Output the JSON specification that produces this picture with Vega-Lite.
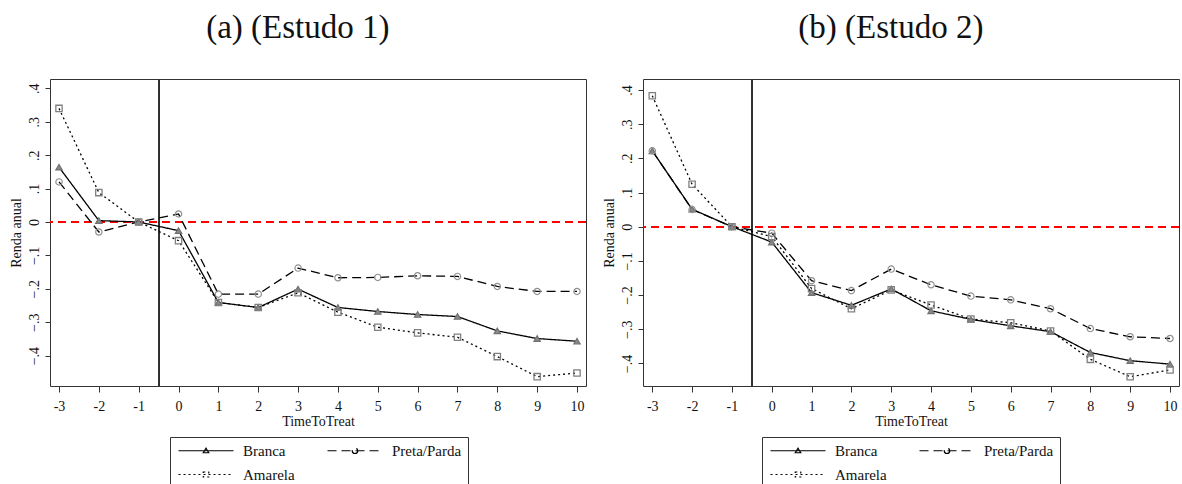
{
  "$schema": "https://vega.github.io/schema/vega-lite/v6.json",
  "background": "white",
  "padding": {"left": 8, "top": 11, "right": 0, "bottom": 0},
  "spacing": 13,
  "datasets": {
    "d": [
      {"estudo": 1, "grupo": "Branca", "t": -3, "v": 0.164},
      {"estudo": 1, "grupo": "Branca", "t": -2, "v": 0.004},
      {"estudo": 1, "grupo": "Branca", "t": -1, "v": 0},
      {"estudo": 1, "grupo": "Branca", "t": 0, "v": -0.026},
      {"estudo": 1, "grupo": "Branca", "t": 1, "v": -0.241},
      {"estudo": 1, "grupo": "Branca", "t": 2, "v": -0.256},
      {"estudo": 1, "grupo": "Branca", "t": 3, "v": -0.201},
      {"estudo": 1, "grupo": "Branca", "t": 4, "v": -0.256},
      {"estudo": 1, "grupo": "Branca", "t": 5, "v": -0.268},
      {"estudo": 1, "grupo": "Branca", "t": 6, "v": -0.277},
      {"estudo": 1, "grupo": "Branca", "t": 7, "v": -0.283},
      {"estudo": 1, "grupo": "Branca", "t": 8, "v": -0.326},
      {"estudo": 1, "grupo": "Branca", "t": 9, "v": -0.349},
      {"estudo": 1, "grupo": "Branca", "t": 10, "v": -0.357},
      {"estudo": 1, "grupo": "Preta/Parda", "t": -3, "v": 0.120},
      {"estudo": 1, "grupo": "Preta/Parda", "t": -2, "v": -0.030},
      {"estudo": 1, "grupo": "Preta/Parda", "t": -1, "v": 0},
      {"estudo": 1, "grupo": "Preta/Parda", "t": 0, "v": 0.024},
      {"estudo": 1, "grupo": "Preta/Parda", "t": 1, "v": -0.216},
      {"estudo": 1, "grupo": "Preta/Parda", "t": 2, "v": -0.216},
      {"estudo": 1, "grupo": "Preta/Parda", "t": 3, "v": -0.138},
      {"estudo": 1, "grupo": "Preta/Parda", "t": 4, "v": -0.167},
      {"estudo": 1, "grupo": "Preta/Parda", "t": 5, "v": -0.166},
      {"estudo": 1, "grupo": "Preta/Parda", "t": 6, "v": -0.161},
      {"estudo": 1, "grupo": "Preta/Parda", "t": 7, "v": -0.163},
      {"estudo": 1, "grupo": "Preta/Parda", "t": 8, "v": -0.193},
      {"estudo": 1, "grupo": "Preta/Parda", "t": 9, "v": -0.208},
      {"estudo": 1, "grupo": "Preta/Parda", "t": 10, "v": -0.208},
      {"estudo": 1, "grupo": "Amarela", "t": -3, "v": 0.340},
      {"estudo": 1, "grupo": "Amarela", "t": -2, "v": 0.088},
      {"estudo": 1, "grupo": "Amarela", "t": -1, "v": 0},
      {"estudo": 1, "grupo": "Amarela", "t": 0, "v": -0.056},
      {"estudo": 1, "grupo": "Amarela", "t": 1, "v": -0.241},
      {"estudo": 1, "grupo": "Amarela", "t": 2, "v": -0.256},
      {"estudo": 1, "grupo": "Amarela", "t": 3, "v": -0.212},
      {"estudo": 1, "grupo": "Amarela", "t": 4, "v": -0.270},
      {"estudo": 1, "grupo": "Amarela", "t": 5, "v": -0.315},
      {"estudo": 1, "grupo": "Amarela", "t": 6, "v": -0.332},
      {"estudo": 1, "grupo": "Amarela", "t": 7, "v": -0.345},
      {"estudo": 1, "grupo": "Amarela", "t": 8, "v": -0.403},
      {"estudo": 1, "grupo": "Amarela", "t": 9, "v": -0.463},
      {"estudo": 1, "grupo": "Amarela", "t": 10, "v": -0.452},
      {"estudo": 2, "grupo": "Branca", "t": -3, "v": 0.222},
      {"estudo": 2, "grupo": "Branca", "t": -2, "v": 0.051},
      {"estudo": 2, "grupo": "Branca", "t": -1, "v": 0},
      {"estudo": 2, "grupo": "Branca", "t": 0, "v": -0.045},
      {"estudo": 2, "grupo": "Branca", "t": 1, "v": -0.193},
      {"estudo": 2, "grupo": "Branca", "t": 2, "v": -0.230},
      {"estudo": 2, "grupo": "Branca", "t": 3, "v": -0.182},
      {"estudo": 2, "grupo": "Branca", "t": 4, "v": -0.246},
      {"estudo": 2, "grupo": "Branca", "t": 5, "v": -0.271},
      {"estudo": 2, "grupo": "Branca", "t": 6, "v": -0.290},
      {"estudo": 2, "grupo": "Branca", "t": 7, "v": -0.307},
      {"estudo": 2, "grupo": "Branca", "t": 8, "v": -0.368},
      {"estudo": 2, "grupo": "Branca", "t": 9, "v": -0.392},
      {"estudo": 2, "grupo": "Branca", "t": 10, "v": -0.402},
      {"estudo": 2, "grupo": "Preta/Parda", "t": -3, "v": 0.222},
      {"estudo": 2, "grupo": "Preta/Parda", "t": -2, "v": 0.050},
      {"estudo": 2, "grupo": "Preta/Parda", "t": -1, "v": 0},
      {"estudo": 2, "grupo": "Preta/Parda", "t": 0, "v": -0.019},
      {"estudo": 2, "grupo": "Preta/Parda", "t": 1, "v": -0.158},
      {"estudo": 2, "grupo": "Preta/Parda", "t": 2, "v": -0.187},
      {"estudo": 2, "grupo": "Preta/Parda", "t": 3, "v": -0.124},
      {"estudo": 2, "grupo": "Preta/Parda", "t": 4, "v": -0.170},
      {"estudo": 2, "grupo": "Preta/Parda", "t": 5, "v": -0.203},
      {"estudo": 2, "grupo": "Preta/Parda", "t": 6, "v": -0.214},
      {"estudo": 2, "grupo": "Preta/Parda", "t": 7, "v": -0.240},
      {"estudo": 2, "grupo": "Preta/Parda", "t": 8, "v": -0.298},
      {"estudo": 2, "grupo": "Preta/Parda", "t": 9, "v": -0.322},
      {"estudo": 2, "grupo": "Preta/Parda", "t": 10, "v": -0.327},
      {"estudo": 2, "grupo": "Amarela", "t": -3, "v": 0.383},
      {"estudo": 2, "grupo": "Amarela", "t": -2, "v": 0.124},
      {"estudo": 2, "grupo": "Amarela", "t": -1, "v": 0},
      {"estudo": 2, "grupo": "Amarela", "t": 0, "v": -0.029},
      {"estudo": 2, "grupo": "Amarela", "t": 1, "v": -0.181},
      {"estudo": 2, "grupo": "Amarela", "t": 2, "v": -0.240},
      {"estudo": 2, "grupo": "Amarela", "t": 3, "v": -0.185},
      {"estudo": 2, "grupo": "Amarela", "t": 4, "v": -0.229},
      {"estudo": 2, "grupo": "Amarela", "t": 5, "v": -0.270},
      {"estudo": 2, "grupo": "Amarela", "t": 6, "v": -0.281},
      {"estudo": 2, "grupo": "Amarela", "t": 7, "v": -0.305},
      {"estudo": 2, "grupo": "Amarela", "t": 8, "v": -0.388},
      {"estudo": 2, "grupo": "Amarela", "t": 9, "v": -0.439},
      {"estudo": 2, "grupo": "Amarela", "t": 10, "v": -0.419}
    ]
  },
  "config": {
    "view": {"stroke": "#333", "strokeWidth": 1},
    "font": "Liberation Serif",
    "text": {"font": "Liberation Serif"},
    "axis": {
      "domain": false, "grid": false, "tickColor": "#333", "tickWidth": 1,
      "labelFont": "Liberation Serif", "labelFontSize": 14, "labelColor": "#111",
      "titleFont": "Liberation Serif", "titleFontSize": 14, "titleFontWeight": "normal", "titleColor": "#111"
    },
    "legend": {"labelFont": "Liberation Serif"},
    "title": {"font": "Liberation Serif", "fontSize": 33, "fontWeight": "normal", "color": "#111", "anchor": "middle", "frame": "bounds", "offset": 34}
  },
  "resolve": {
    "scale": {"y": "independent", "strokeDash": "independent"},
    "legend": {"strokeDash": "independent"}
  },
  "hconcat": [
    {
      "title": "(a) (Estudo 1)",
      "width": 536, "height": 307,
      "data": {"name": "d"},
      "transform": [{"filter": "datum.estudo == 1"}],
      "encoding": {
        "x": {"field": "t", "type": "quantitative", "title": "TimeToTreat",
          "scale": {"domain": [-3.226, 10.226], "nice": false, "zero": false},
          "axis": {"values": [-3,-2,-1,0,1,2,3,4,5,6,7,8,9,10], "labelExpr": "'' + datum.value", "labelFont": "Liberation Serif", "titleFont": "Liberation Serif", "tickSize": 6, "labelPadding": 7, "titlePadding": 1}},
        "y": {"field": "v", "type": "quantitative", "title": "Renda anual",
          "scale": {"domain": [-0.491, 0.428], "nice": false, "zero": false},
          "axis": {"values": [-0.4,-0.3,-0.2,-0.1,0,0.1,0.2,0.3,0.4], "labelExpr": "datum.value == 0 ? '0' : replace(format(datum.value, '.1f'), '0.', '.')", "labelFont": "Liberation Serif", "titleFont": "Liberation Serif", "labelAngle": 270, "labelAlign": "center", "labelBaseline": "bottom", "tickSize": 5, "labelPadding": 4, "titlePadding": 4}}
      },
      "layer": [
        {"mark": {"type": "rule", "color": "#ff0000", "strokeDash": [8, 5], "strokeWidth": 1.5}, "encoding": {"y": {"datum": 0}, "x": null}},
        {"mark": {"type": "rule", "color": "#333", "strokeWidth": 1}, "encoding": {"x": {"datum": -0.5}, "y": null}},
        {"mark": {"type": "line", "color": "black", "strokeWidth": 1.3},
          "encoding": {"strokeDash": {"field": "grupo", "type": "nominal",
            "scale": {"domain": ["Branca", "Preta/Parda", "Amarela"], "range": [[1, 0], [9, 5], [2, 3]]},
            "legend": {"orient": "none", "legendX": 120, "legendY": 358, "title": null, "columns": 2, "direction": "horizontal",
              "strokeColor": "#333", "padding": 6, "labelFont": "Liberation Serif", "labelFontSize": 15, "labelColor": "#111",
              "symbolSize": 100, "symbolStrokeColor": "black", "symbolStrokeWidth": 1.2, "symbolFillColor": "transparent",
              "labelOffset": 52, "columnPadding": 30, "rowPadding": 8,
              "encode": {"symbols": {"update": {
                "shape": {"signal": "datum.value == 'Branca' ? 'M-1,0H10M4.5,-0.5L5.05,0.4L3.95,0.4Z' : datum.value == 'Preta/Parda' ? 'M-1,0H10M5.05,0A0.55,0.55 0 1 1 3.95,0A0.55,0.55 0 1 1 5.05,0' : 'M-1,0H10M3.95,-0.5H5.05V0.5H3.95Z'"}}}}}}}},
        {"transform": [{"filter": "datum.grupo == 'Branca'"}], "mark": {"type": "point", "shape": "triangle-up", "size": 40, "strokeWidth": 1.2, "stroke": "#707070", "fill": "#8a8a8a", "filled": true, "opacity": 1}},
        {"transform": [{"filter": "datum.grupo == 'Preta/Parda'"}], "mark": {"type": "point", "shape": "circle", "size": 40, "strokeWidth": 1.2, "stroke": "#909090", "fill": "transparent", "opacity": 1}},
        {"transform": [{"filter": "datum.grupo == 'Amarela'"}], "mark": {"type": "point", "shape": "square", "size": 40, "strokeWidth": 1.3, "stroke": "#808080", "fill": "transparent", "opacity": 1}}
      ]
    },
    {
      "title": "(b) (Estudo 2)",
      "width": 536, "height": 307,
      "data": {"name": "d"},
      "transform": [{"filter": "datum.estudo == 2"}],
      "encoding": {
        "x": {"field": "t", "type": "quantitative", "title": "TimeToTreat",
          "scale": {"domain": [-3.233, 10.226], "nice": false, "zero": false},
          "axis": {"values": [-3,-2,-1,0,1,2,3,4,5,6,7,8,9,10], "labelExpr": "'' + datum.value", "labelFont": "Liberation Serif", "titleFont": "Liberation Serif", "tickSize": 6, "labelPadding": 7, "titlePadding": 1}},
        "y": {"field": "v", "type": "quantitative", "title": "Renda anual",
          "scale": {"domain": [-0.466, 0.432], "nice": false, "zero": false},
          "axis": {"values": [-0.4,-0.3,-0.2,-0.1,0,0.1,0.2,0.3,0.4], "labelExpr": "datum.value == 0 ? '0' : replace(format(datum.value, '.1f'), '0.', '.')", "labelFont": "Liberation Serif", "titleFont": "Liberation Serif", "labelAngle": 270, "labelAlign": "center", "labelBaseline": "bottom", "tickSize": 5, "labelPadding": 4, "titlePadding": 4}}
      },
      "layer": [
        {"mark": {"type": "rule", "color": "#ff0000", "strokeDash": [8, 5], "strokeWidth": 1.5}, "encoding": {"y": {"datum": 0}, "x": null}},
        {"mark": {"type": "rule", "color": "#333", "strokeWidth": 1}, "encoding": {"x": {"datum": -0.5}, "y": null}},
        {"mark": {"type": "line", "color": "black", "strokeWidth": 1.3},
          "encoding": {"strokeDash": {"field": "grupo", "type": "nominal",
            "scale": {"domain": ["Branca", "Preta/Parda", "Amarela"], "range": [[1, 0], [9, 5], [2, 3]]},
            "legend": {"orient": "none", "legendX": 119, "legendY": 358, "title": null, "columns": 2, "direction": "horizontal",
              "strokeColor": "#333", "padding": 6, "labelFont": "Liberation Serif", "labelFontSize": 15, "labelColor": "#111",
              "symbolSize": 100, "symbolStrokeColor": "black", "symbolStrokeWidth": 1.2, "symbolFillColor": "transparent",
              "labelOffset": 52, "columnPadding": 30, "rowPadding": 8,
              "encode": {"symbols": {"update": {
                "shape": {"signal": "datum.value == 'Branca' ? 'M-1,0H10M4.5,-0.5L5.05,0.4L3.95,0.4Z' : datum.value == 'Preta/Parda' ? 'M-1,0H10M5.05,0A0.55,0.55 0 1 1 3.95,0A0.55,0.55 0 1 1 5.05,0' : 'M-1,0H10M3.95,-0.5H5.05V0.5H3.95Z'"}}}}}}}},
        {"transform": [{"filter": "datum.grupo == 'Branca'"}], "mark": {"type": "point", "shape": "triangle-up", "size": 40, "strokeWidth": 1.2, "stroke": "#707070", "fill": "#8a8a8a", "filled": true, "opacity": 1}},
        {"transform": [{"filter": "datum.grupo == 'Preta/Parda'"}], "mark": {"type": "point", "shape": "circle", "size": 40, "strokeWidth": 1.2, "stroke": "#909090", "fill": "transparent", "opacity": 1}},
        {"transform": [{"filter": "datum.grupo == 'Amarela'"}], "mark": {"type": "point", "shape": "square", "size": 40, "strokeWidth": 1.3, "stroke": "#808080", "fill": "transparent", "opacity": 1}}
      ]
    }
  ]
}
